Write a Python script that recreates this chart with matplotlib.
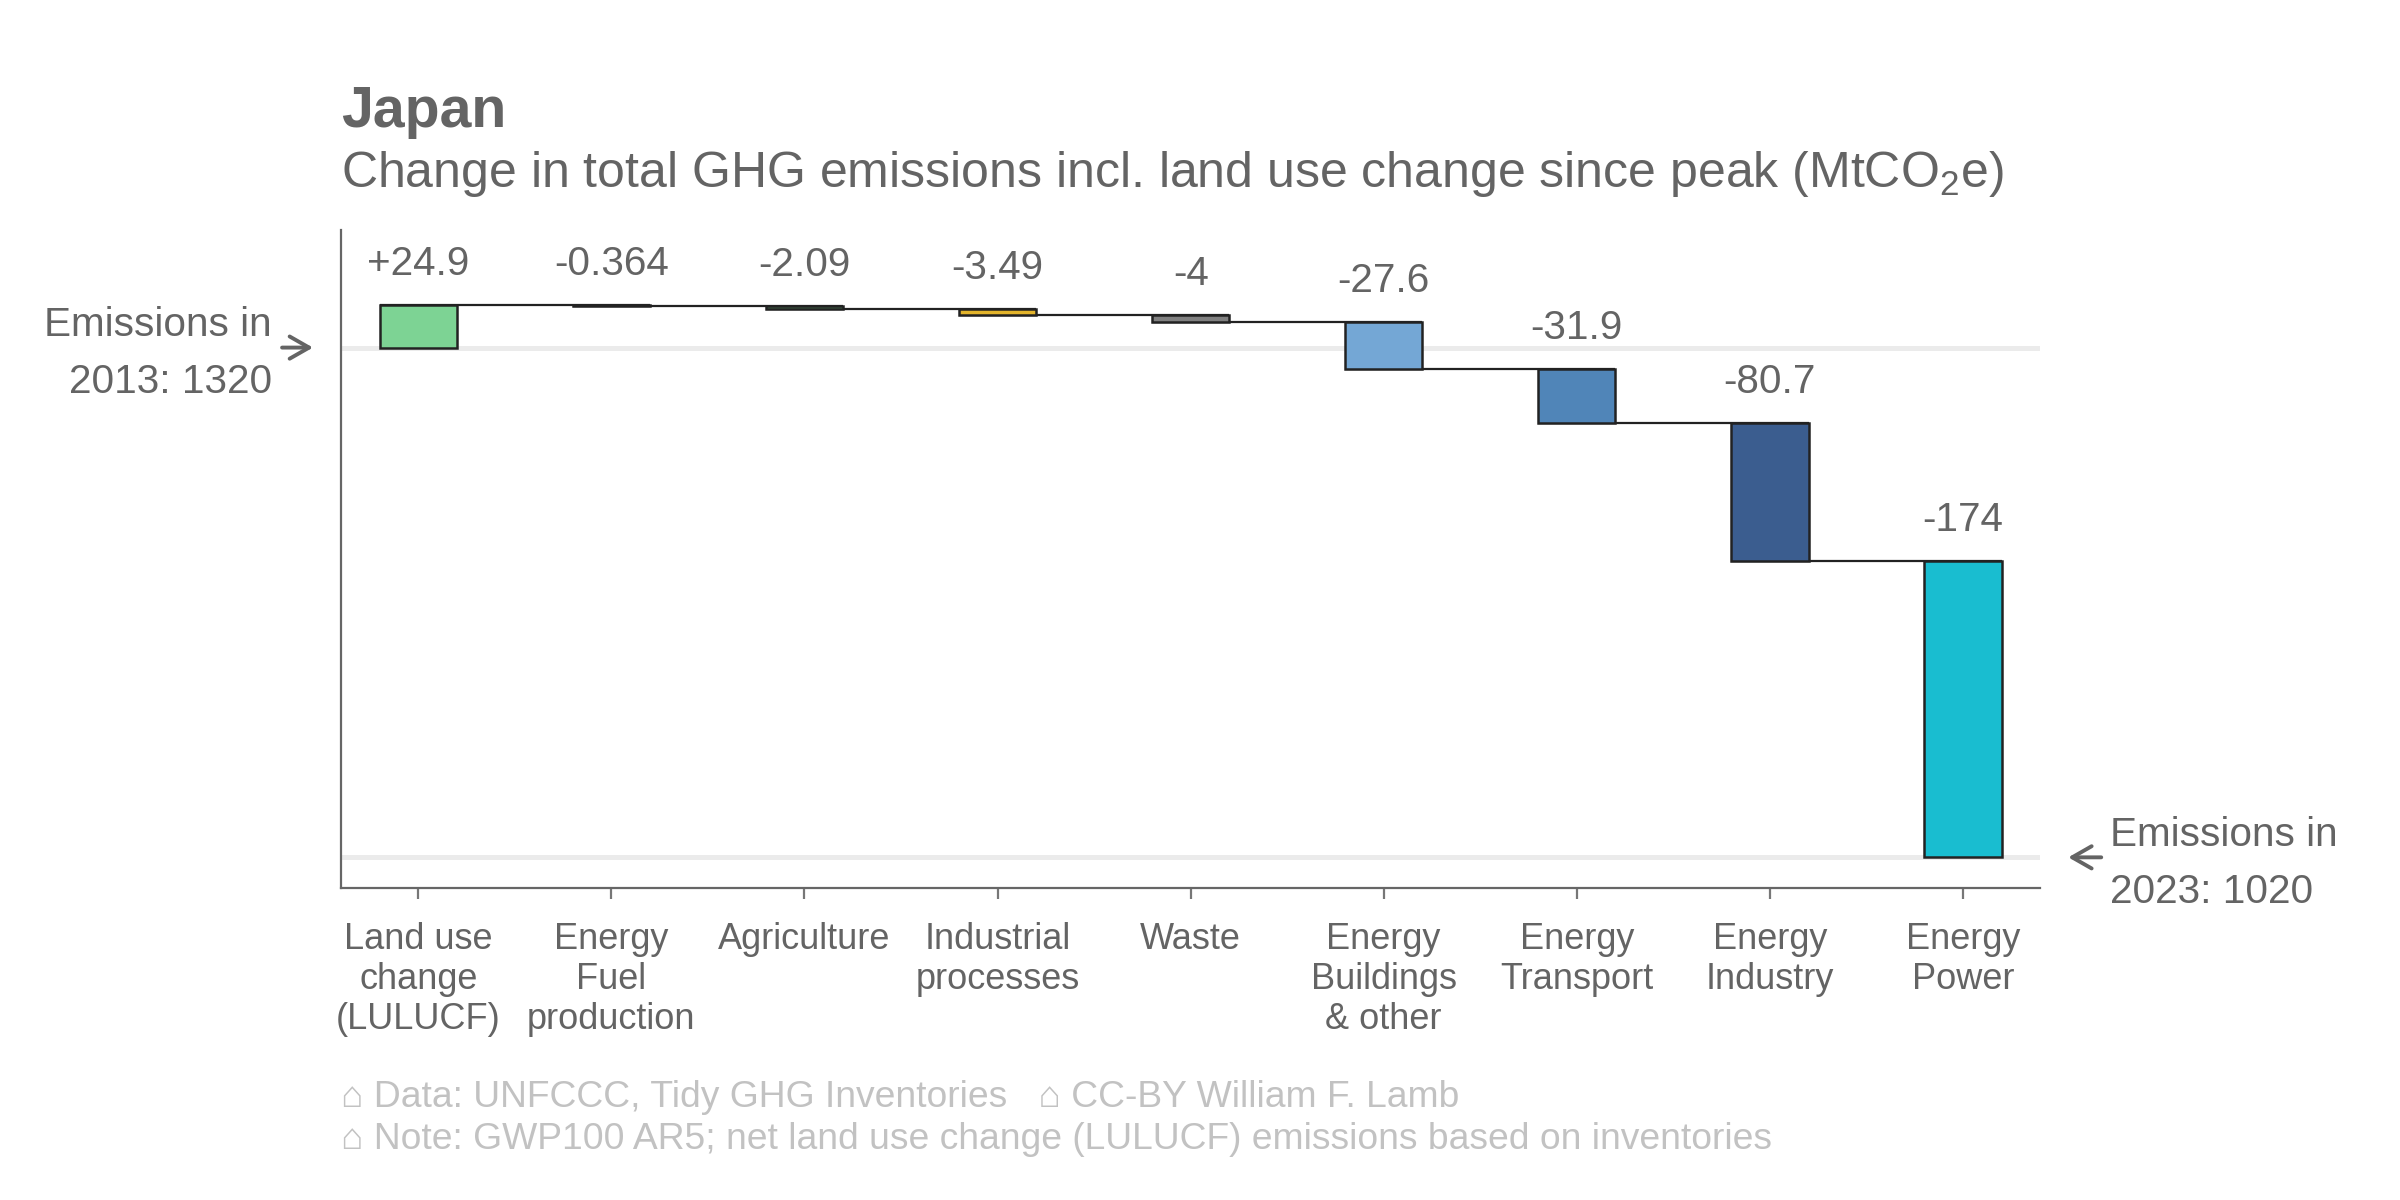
import matplotlib.pyplot as plt
import numpy as np

plt.rcParams["font.family"] = ["Liberation Sans", "DejaVu Sans"]
plt.rcParams["mathtext.fontset"] = "custom"
plt.rcParams["mathtext.rm"] = "Liberation Sans"

# Data
country = "Japan"
sectors = [
    "Land use\nchange\n(LULUCF)",
    "Energy\nFuel\nproduction",
    "Agriculture",
    "Industrial\nprocesses",
    "Waste",
    "Energy\nBuildings\n& other",
    "Energy\nTransport",
    "Energy\nIndustry",
    "Energy\nPower",
]
changes = [24.9, -0.364, -2.09, -3.49, -4.0, -27.6, -31.9, -80.7, -174.0]
sector_colors = [
    "#7dd394", "#2f6b3d", "#4f8a5b", "#e3b42b", "#808080",
    "#74a7d5", "#5085b8", "#3b5d8f", "#19bdd0",
]
peak_year = 2013
last_year = 2023
peak_total = 1320.0

TEXT = "#646464"
FOOT = "#c2c2c2"

changes = np.array(changes)
after = peak_total + np.cumsum(changes)
before = after - changes
end_total = after[-1]
x = np.arange(len(sectors))


def sig3(value):
    return "{:g}".format(float(f"{value:.3g}"))


fig = plt.figure(figsize=(12, 6), dpi=200)
ax = fig.add_axes([0.1421, 0.26, 0.708, 0.5483])

# reference levels
ax.axhline(peak_total, color="#ebebeb", lw=1.8, zorder=1)
ax.axhline(end_total, color="#ebebeb", lw=1.8, zorder=1)

# connectors between bars
for i in range(len(sectors) - 1):
    ax.plot([i - 0.2, i + 1.2], [after[i], after[i]], color="#222222",
            lw=0.8, zorder=2, solid_capstyle="butt")

ax.bar(x, changes, bottom=before, width=0.4, color=sector_colors,
       edgecolor="#222222", linewidth=0.9, zorder=3)

for i, change in enumerate(changes):
    ax.annotate(f"{change:+.3g}", (i, max(before[i], after[i])),
                xytext=(0, 10.8), textcoords="offset points",
                ha="center", va="baseline", fontsize=14.6, color=TEXT)

ax.set_xlim(-0.4, len(sectors) - 0.6)
ax.set_ylim(end_total - 18, peak_total + 69)
ax.set_xticks(x, sectors, fontsize=13, color=TEXT, linespacing=1.18)
ax.set_yticks([])
ax.tick_params(axis="x", length=4, width=0.8, color="#777777", pad=8.4)
for side in ("top", "right"):
    ax.spines[side].set_visible(False)
for side in ("left", "bottom"):
    ax.spines[side].set_color("#666666")
    ax.spines[side].set_linewidth(0.8)

# start / end annotations
trans = ax.get_yaxis_transform()
arrow = dict(arrowstyle="->,head_length=0.7,head_width=0.4",
             color=TEXT, lw=1.4, shrinkA=0, shrinkB=0)
ax.annotate("", xy=(-0.0165, peak_total), xytext=(-0.0347, peak_total),
            xycoords=trans, textcoords=trans, arrowprops=arrow,
            annotation_clip=False)
ax.annotate(f"Emissions in\n{peak_year}: {sig3(peak_total)}",
            (-0.0406, peak_total), xycoords=trans,
            xytext=(0, -2.2), textcoords="offset points",
            ha="right", va="center", multialignment="right",
            fontsize=14.6, color=TEXT, linespacing=1.62,
            annotation_clip=False)
ax.annotate("", xy=(1.0165, end_total), xytext=(1.0359, end_total),
            xycoords=trans, textcoords=trans, arrowprops=arrow,
            annotation_clip=False)
ax.annotate(f"Emissions in\n{last_year}: {sig3(end_total)}",
            (1.0412, end_total), xycoords=trans,
            xytext=(0, -2.2), textcoords="offset points",
            ha="left", va="center", multialignment="left",
            fontsize=14.6, color=TEXT, linespacing=1.62,
            annotation_clip=False)

# titles
fig.text(0.1421, 0.894, country, fontsize=20.6, fontweight="bold",
         color=TEXT, va="baseline")
fig.text(0.1421, 0.844,
         r"Change in total GHG emissions incl. land use change since peak (MtCO$_{\mathrm{2}}$e)",
         fontsize=18, color=TEXT, va="baseline")

# footer
fig.text(0.1421, 0.0858,
         "\u2302 Data: UNFCCC, Tidy GHG Inventories   \u2302 CC-BY William F. Lamb",
         fontsize=13.4, color=FOOT, va="center")
fig.text(0.1421, 0.0508,
         "\u2302 Note: GWP100 AR5; net land use change (LULUCF) emissions based on inventories",
         fontsize=13.4, color=FOOT, va="center")

fig.savefig("out.png", dpi=200, facecolor="white")
